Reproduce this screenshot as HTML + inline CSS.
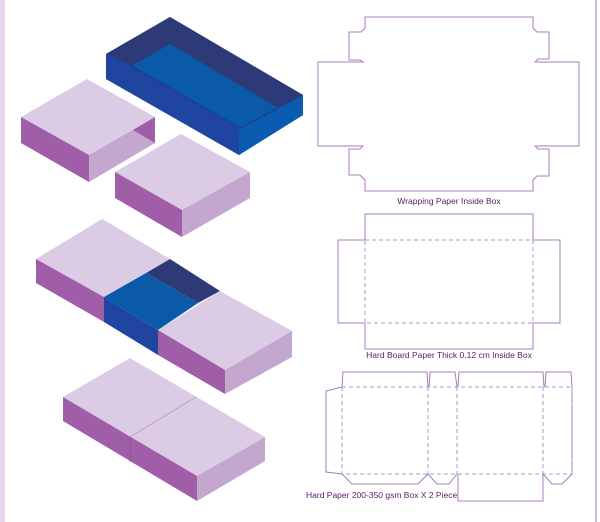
<!DOCTYPE html>
<html><head><meta charset="utf-8"><style>
html,body{margin:0;padding:0;background:#fff;}
svg{display:block;}
text{font-family:"Liberation Sans",sans-serif;font-size:8.5px;fill:#5a1a6a;}
</style></head><body>
<svg width="600" height="522" viewBox="0 0 600 522" xmlns="http://www.w3.org/2000/svg">
<rect x="0" y="0" width="600" height="522" fill="#fff"/>
<rect x="0" y="0" width="5" height="522" fill="#e4d8ee"/>
<rect x="595" y="0" width="2" height="522" fill="#c6bde6"/>

<!-- Blue tray -->
<polygon points="106,54 170,17 303,95 303,115 239,155 106,79" fill="#1f45a0"/>
<polygon points="106,54 170,17 303,95 278,108 170,44 132,66" fill="#2e3a78"/>
<polygon points="132,66 170,44 278,108 240,128" fill="#0a5aa8"/>
<polygon points="106,54 132,66 240,128 239,130 106,57" fill="#1f45a0"/>
<polygon points="239,130 303,95 303,115 239,155" fill="#0a5cb0"/>
<polygon points="106,54 239,130 239,155 106,79" fill="#1f45a0"/>
<polyline points="132,66 240,128 278,108" fill="none" stroke="#1c3a80" stroke-width="0.8"/>

<!-- Box 1 (sleeve) -->
<polygon points="21,117 87,79 155,117 89,155" fill="#dccbe5"/>
<polygon points="21,117 89,155 89,182 21,143" fill="#a05ea9"/>
<polygon points="89,155 155,117 155,143 89,182" fill="#c4a7cf"/>
<polygon points="133,130 155,117 155,143" fill="#a05ea9"/>

<!-- Box 2 -->
<polygon points="115,172 181,134 250,172 182,210" fill="#dccbe5"/>
<polygon points="115,172 182,210 182,237 115,198" fill="#a05ea9"/>
<polygon points="182,210 250,172 250,198 182,237" fill="#c4a7cf"/>

<!-- Box 3 (half open) -->
<polygon points="36,259 102,219 170,259 104,297" fill="#dccbe5"/>
<polygon points="36,259 104,297 104,322 36,283" fill="#a05ea9"/>
<polygon points="146,273 170,259 220,291 198,303" fill="#2e3a78"/>
<polygon points="104,297 146,273 198,303 158,330" fill="#0a5aa8"/>
<polygon points="104,297 158,330 158,355 104,322" fill="#1f45a0"/>
<polygon points="158,330 220,291 292,331 225,370" fill="#dccbe5"/>
<polygon points="158,330 225,370 225,394 158,355" fill="#a05ea9"/>
<polygon points="225,370 292,331 292,357 225,394" fill="#c4a7cf"/>

<!-- Box 4 (closed) -->
<polygon points="63,397 130,358 265,437 197,476" fill="#dccbe5"/>
<polygon points="63,397 197,476 197,501 63,421" fill="#a05ea9"/>
<polygon points="197,476 265,437 265,461 197,501" fill="#c4a7cf"/>
<line x1="130" y1="437" x2="196" y2="397" stroke="#a88ab8" stroke-width="0.7"/>
<line x1="130" y1="437" x2="130" y2="462" stroke="#8f4f98" stroke-width="0.7"/>

<!-- Wrapping paper die-line -->
<polygon fill="none" stroke="#a77cb8" stroke-width="1" points="365,17 365,28 361,32 349,32 349,60 360,60 363,62 318,62 318,146 363,146 360,149 349,149 349,175 360,175 365,180 365,191 533,191 533,180 537,176 549,176 549,149 538,149 535,146 579,146 579,62 535,62 538,59 549,59 549,32 537,32 533,28 533,17"/>
<text x="449" y="204" text-anchor="middle">Wrapping Paper Inside Box</text>

<!-- Hard board -->
<polygon fill="none" stroke="#a77cb8" stroke-width="1" points="365,214 533,214 533,240 560,240 560,323 533,323 533,349 365,349 365,323 338,323 338,240 365,240"/>
<rect x="365" y="240" width="168" height="83" fill="none" stroke="#9aa0cc" stroke-width="1" stroke-dasharray="4,3"/>
<text x="449" y="414" text-anchor="middle" style="display:none"></text>
<text x="449" y="414" text-anchor="middle" transform="translate(0,-56)">Hard Board Paper  Thick 0.12 cm Inside Box</text>

<!-- Hard paper box -->
<g fill="none" stroke="#a77cb8" stroke-width="1">
<polyline points="342,387 343,372 427,372 428,387"/>
<polyline points="429,387 430,372 455,372 457,387"/>
<polyline points="458,387 459,372 543,372 544,387"/>
<polyline points="545,387 546,372 571,372 572,387"/>
<polyline points="342,387 326,391 326,472 342,474 352,484 418,484 428,474 437,484 449,484 457,474"/>
<polyline points="458,474 458,501 543,501 543,474 552,484 562,484 572,474 572,386"/>
</g>
<g fill="none" stroke="#9aa0cc" stroke-width="1" stroke-dasharray="4,3">
<rect x="342" y="387" width="230" height="87"/>
<line x1="428" y1="387" x2="428" y2="474"/>
<line x1="457" y1="387" x2="457" y2="474"/>
<line x1="543" y1="387" x2="543" y2="474"/>
</g>
<text x="306" y="498">Hard Paper 200-350 gsm Box  X 2 Piece</text>
</svg>
</body></html>
